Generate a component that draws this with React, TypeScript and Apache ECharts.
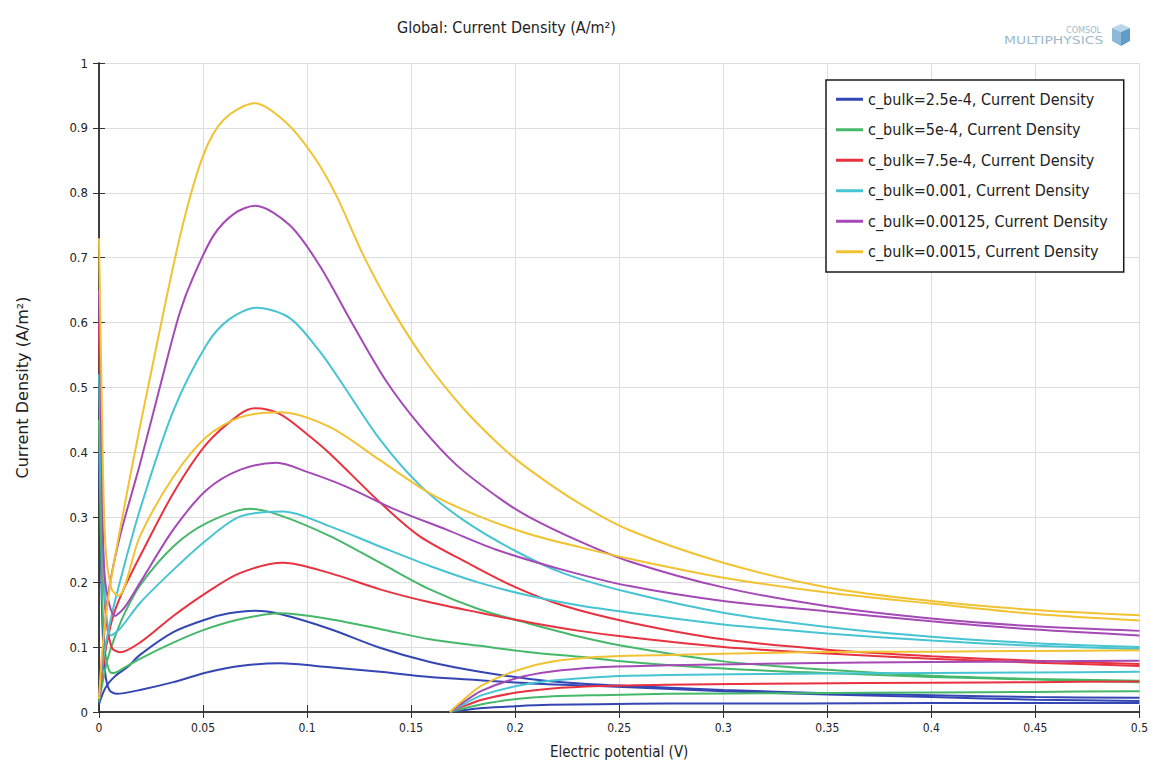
import React, { useEffect, useRef } from "react";
import * as echarts from "echarts";

// ---- data ----
const seriesNames = [
  "c_bulk=2.5e-4, Current Density",
  "c_bulk=5e-4, Current Density",
  "c_bulk=7.5e-4, Current Density",
  "c_bulk=0.001, Current Density",
  "c_bulk=0.00125, Current Density",
  "c_bulk=0.0015, Current Density",
];
const colors = ["#3446b4", "#46b86a", "#e9323f", "#46c4d2", "#a449b6", "#f1c232"];

const xTicks = [0, 0.05, 0.1, 0.15, 0.2, 0.25, 0.3, 0.35, 0.4, 0.45, 0.5];
const yTicks = [0, 0.1, 0.2, 0.3, 0.4, 0.5, 0.6, 0.7, 0.8, 0.9, 1];

// c_bulk = 2.5e-4
const blueHigh = [[0,0.012],[0.002,0.03],[0.004,0.042],[0.007,0.053],[0.01,0.061],[0.014,0.07],[0.0197,0.088],[0.0357,0.123],[0.0517,0.143],[0.0625,0.152],[0.075,0.156],[0.087,0.151],[0.111,0.128],[0.135,0.099],[0.159,0.077],[0.183,0.062],[0.207,0.051],[0.231,0.044],[0.255,0.04],[0.3,0.034],[0.35,0.029],[0.4,0.026],[0.45,0.023],[0.5,0.022]];
const blueLow = [[0,0.4],[0.0015,0.15],[0.003,0.06],[0.005,0.034],[0.0085,0.028],[0.0197,0.034],[0.0357,0.046],[0.0517,0.061],[0.0677,0.071],[0.087,0.075],[0.111,0.069],[0.135,0.062],[0.159,0.054],[0.183,0.049],[0.207,0.044],[0.231,0.041],[0.255,0.038],[0.3,0.032],[0.35,0.027],[0.4,0.023],[0.45,0.019],[0.5,0.017]];
const blueLate = [[0.1686,0],[0.172,0.0015],[0.177,0.0035],[0.184,0.006],[0.2006,0.009],[0.2166,0.011],[0.2406,0.012],[0.273,0.013],[0.337,0.013],[0.4,0.014],[0.45,0.014],[0.5,0.014]];

// c_bulk = 5e-4
const greenHigh = [[0,0.015],[0.002,0.05],[0.004,0.08],[0.007,0.11],[0.012,0.15],[0.0197,0.195],[0.0357,0.255],[0.0517,0.291],[0.0725,0.313],[0.087,0.303],[0.111,0.271],[0.135,0.23],[0.159,0.189],[0.183,0.158],[0.207,0.136],[0.231,0.116],[0.255,0.1],[0.3,0.078],[0.35,0.065],[0.4,0.056],[0.45,0.051],[0.5,0.048]];
const greenLow = [[0,0.45],[0.0015,0.18],[0.003,0.09],[0.005,0.063],[0.007,0.06],[0.012,0.068],[0.0197,0.082],[0.0357,0.107],[0.0517,0.128],[0.0677,0.143],[0.087,0.152],[0.111,0.143],[0.135,0.128],[0.159,0.112],[0.183,0.102],[0.207,0.092],[0.231,0.085],[0.255,0.077],[0.3,0.067],[0.35,0.06],[0.4,0.054],[0.45,0.05],[0.5,0.046]];
const greenLate = [[0.1686,0],[0.172,0.003],[0.177,0.007],[0.184,0.012],[0.2006,0.02],[0.2166,0.024],[0.2406,0.026],[0.273,0.028],[0.337,0.029],[0.4,0.03],[0.45,0.031],[0.5,0.032]];

// c_bulk = 7.5e-4
const redHigh = [[0,0.02],[0.002,0.07],[0.004,0.11],[0.007,0.15],[0.012,0.19],[0.0197,0.24],[0.0357,0.337],[0.0517,0.413],[0.0677,0.459],[0.075,0.468],[0.087,0.459],[0.1,0.428],[0.111,0.398],[0.135,0.323],[0.154,0.271],[0.177,0.23],[0.199,0.194],[0.223,0.164],[0.255,0.138],[0.3,0.112],[0.35,0.096],[0.4,0.086],[0.45,0.079],[0.5,0.074]];
const redLow = [[0,0.6],[0.0015,0.3],[0.003,0.16],[0.006,0.1],[0.01,0.092],[0.0197,0.107],[0.0357,0.148],[0.0517,0.184],[0.0677,0.214],[0.0885,0.23],[0.111,0.214],[0.135,0.189],[0.159,0.169],[0.183,0.153],[0.207,0.138],[0.231,0.125],[0.255,0.115],[0.3,0.1],[0.35,0.09],[0.4,0.082],[0.45,0.076],[0.5,0.071]];
const redLate = [[0.1686,0],[0.172,0.005],[0.177,0.011],[0.184,0.019],[0.2006,0.03],[0.2166,0.036],[0.2406,0.04],[0.273,0.042],[0.337,0.044],[0.4,0.045],[0.45,0.046],[0.5,0.047]];

// c_bulk = 0.001
const cyanHigh = [[0,0.02],[0.002,0.08],[0.0053,0.138],[0.01,0.2],[0.0197,0.312],[0.0357,0.464],[0.0517,0.566],[0.0625,0.605],[0.0757,0.623],[0.0917,0.607],[0.106,0.556],[0.116,0.51],[0.135,0.42],[0.154,0.35],[0.175,0.296],[0.199,0.25],[0.223,0.214],[0.255,0.184],[0.3,0.153],[0.35,0.131],[0.4,0.116],[0.45,0.106],[0.5,0.1]];
const cyanLow = [[0,0.52],[0.0015,0.3],[0.003,0.17],[0.0058,0.118],[0.01,0.128],[0.0197,0.168],[0.0357,0.219],[0.0517,0.265],[0.0677,0.301],[0.0885,0.309],[0.111,0.286],[0.135,0.255],[0.159,0.225],[0.183,0.199],[0.207,0.179],[0.231,0.164],[0.255,0.153],[0.3,0.135],[0.35,0.121],[0.4,0.11],[0.45,0.102],[0.5,0.097]];
const cyanLate = [[0.1686,0],[0.172,0.006],[0.177,0.015],[0.184,0.026],[0.2006,0.04],[0.2166,0.048],[0.2406,0.054],[0.273,0.057],[0.337,0.059],[0.4,0.06],[0.45,0.061],[0.5,0.062]];

// c_bulk = 0.00125
const purpleHigh = [[0,0.02],[0.002,0.1],[0.0043,0.179],[0.01,0.27],[0.0197,0.382],[0.0325,0.541],[0.039,0.617],[0.045,0.668],[0.055,0.734],[0.065,0.768],[0.075,0.78],[0.0917,0.75],[0.106,0.688],[0.122,0.597],[0.138,0.51],[0.154,0.442],[0.172,0.38],[0.193,0.328],[0.207,0.3],[0.231,0.263],[0.255,0.232],[0.3,0.192],[0.35,0.163],[0.4,0.144],[0.45,0.132],[0.5,0.125]];
const purpleLow = [[0,0.65],[0.0015,0.35],[0.003,0.2],[0.0077,0.148],[0.012,0.16],[0.0197,0.199],[0.0357,0.281],[0.0517,0.342],[0.0677,0.373],[0.0853,0.384],[0.1,0.37],[0.119,0.347],[0.143,0.311],[0.167,0.281],[0.191,0.25],[0.223,0.219],[0.255,0.194],[0.3,0.171],[0.35,0.155],[0.4,0.14],[0.45,0.127],[0.5,0.118]];
const purpleLate = [[0.1686,0],[0.172,0.008],[0.177,0.019],[0.184,0.033],[0.2006,0.052],[0.2166,0.062],[0.2406,0.069],[0.273,0.072],[0.337,0.075],[0.4,0.077],[0.45,0.078],[0.5,0.079]];

// c_bulk = 0.0015
const yellowHigh = [[0,0.02],[0.002,0.11],[0.0053,0.194],[0.0149,0.362],[0.0245,0.515],[0.039,0.734],[0.05,0.857],[0.06,0.913],[0.075,0.938],[0.09,0.908],[0.103,0.857],[0.114,0.796],[0.127,0.704],[0.141,0.62],[0.157,0.54],[0.175,0.468],[0.193,0.41],[0.207,0.373],[0.231,0.321],[0.255,0.28],[0.3,0.23],[0.35,0.192],[0.4,0.171],[0.45,0.157],[0.5,0.149]];
const yellowLow = [[0,0.73],[0.0015,0.45],[0.003,0.26],[0.006,0.19],[0.0093,0.179],[0.0197,0.271],[0.0357,0.362],[0.0517,0.424],[0.0677,0.454],[0.087,0.462],[0.111,0.439],[0.135,0.388],[0.159,0.337],[0.183,0.301],[0.207,0.274],[0.231,0.254],[0.255,0.236],[0.3,0.207],[0.35,0.184],[0.4,0.167],[0.45,0.151],[0.5,0.141]];
const yellowLate = [[0.1686,0],[0.172,0.01],[0.177,0.024],[0.184,0.041],[0.2006,0.064],[0.2166,0.077],[0.2406,0.085],[0.273,0.088],[0.337,0.092],[0.4,0.093],[0.45,0.094],[0.5,0.095]];

const curveGroups = [
  [blueHigh, blueLow, blueLate],
  [greenHigh, greenLow, greenLate],
  [redHigh, redLow, redLate],
  [cyanHigh, cyanLow, cyanLate],
  [purpleHigh, purpleLow, purpleLate],
  [yellowHigh, yellowLow, yellowLate],
];

const HFONT = "'DejaVu Sans Condensed', 'DejaVu Sans', sans-serif";
const VFONT = "'DejaVu Sans', sans-serif";

export default function App() {
  const ref = useRef<HTMLDivElement>(null);

  useEffect(() => {
    if (!ref.current) return;
    const chart = echarts.init(ref.current, undefined, { renderer: "svg" });

    const series: any[] = [];
    curveGroups.forEach((group, gi) => {
      group.forEach((data) => {
        series.push({
          type: "line",
          name: seriesNames[gi],
          data,
          showSymbol: false,
          symbol: "none",
          smooth: 0.3,
          lineStyle: { color: colors[gi], width: 2 },
          itemStyle: { color: colors[gi] },
          xAxisIndex: 0,
          yAxisIndex: 0,
          z: 3,
        });
      });
    });

    const tickColor = "#333";
    const option: any = {
      animation: false,
      backgroundColor: "#ffffff",
      title: {
        text: "Global: Current Density (A/m²)",
        left: 392,
        top: 14,
        textStyle: { fontFamily: HFONT, fontSize: 16, fontWeight: "normal", color: "#222" },
      },
      grid: { left: 99, right: 11, top: 63, bottom: 47, containLabel: false },
      legend: {
        orient: "vertical",
        left: 826,
        top: 80,
        data: seriesNames,
        icon: "rect",
        itemWidth: 27,
        itemHeight: 3,
        itemGap: 12,
        padding: [10, 16, 11, 10],
        backgroundColor: "#fff",
        borderColor: "#1a1a1a",
        borderWidth: 1.5,
        textStyle: { fontFamily: HFONT, fontSize: 16, color: "#222", lineHeight: 18.5 },
      },
      xAxis: [
        {
          type: "value",
          min: 0,
          max: 0.5,
          interval: 0.05,
          name: "Electric potential (V)",
          nameLocation: "middle",
          nameGap: 32,
          nameTextStyle: { fontFamily: HFONT, fontSize: 15, color: "#222" },
          axisLine: { show: true, lineStyle: { color: tickColor, width: 1.5 } },
          axisTick: { show: true, inside: true, length: 7, lineStyle: { color: tickColor } },
          axisLabel: {
            fontFamily: HFONT,
            fontSize: 12,
            color: "#222",
            margin: 10,
            formatter: (v: number) => String(+v.toFixed(2)),
          },
          splitLine: { show: true, lineStyle: { color: "#dcdcdc", width: 1 } },
        },
        {
          type: "value",
          position: "top",
          min: 0,
          max: 0.5,
          interval: 0.05,
          axisLine: { show: true, lineStyle: { color: tickColor, width: 1.5 } },
          axisTick: { show: true, inside: true, length: 6, lineStyle: { color: tickColor } },
          axisLabel: { show: false },
          splitLine: { show: false },
        },
      ],
      yAxis: [
        {
          type: "value",
          min: 0,
          max: 1,
          interval: 0.1,
          name: "Current Density (A/m²)",
          nameLocation: "middle",
          nameGap: 69,
          nameRotate: 90,
          nameTextStyle: { fontFamily: VFONT, fontSize: 16, color: "#222" },
          axisLine: { show: true, lineStyle: { color: tickColor, width: 1.5 } },
          axisTick: { show: true, inside: true, length: 6, lineStyle: { color: tickColor } },
          axisLabel: {
            fontFamily: HFONT,
            fontSize: 13,
            color: "#222",
            margin: 11,
            formatter: (v: number) => String(+v.toFixed(1)),
          },
          splitLine: { show: true, lineStyle: { color: "#dcdcdc", width: 1 } },
        },
        {
          type: "value",
          position: "right",
          min: 0,
          max: 1,
          interval: 0.1,
          axisLine: { show: true, lineStyle: { color: tickColor, width: 1.5 } },
          axisTick: { show: true, inside: true, length: 6, lineStyle: { color: tickColor } },
          axisLabel: { show: false },
          splitLine: { show: false },
        },
      ],
      graphic: [
        {
          type: "text",
          x: 1066,
          y: 25,
          style: { text: "COMSOL", fontFamily: HFONT, fontSize: 9, fill: "#9fb9cc" },
        },
        {
          type: "text",
          x: 1004,
          y: 36,
          scaleX: 1.55,
          style: { text: "MULTIPHYSICS", fontFamily: HFONT, fontSize: 10, fill: "#9fb9cc" },
        },
        {
          type: "group",
          left: 1112,
          top: 24,
          children: [
            { type: "polygon", shape: { points: [[0, 4], [9, 0], [18, 4], [9, 8]] }, style: { fill: "#b9d6ea" } },
            { type: "polygon", shape: { points: [[0, 4], [9, 8], [9, 22], [0, 17]] }, style: { fill: "#8db9d8" } },
            { type: "polygon", shape: { points: [[9, 8], [18, 4], [18, 17], [9, 22]] }, style: { fill: "#5f9cc8" } },
          ],
        },
      ],
      series,
    };

    chart.setOption(option);
    return () => chart.dispose();
  }, []);

  return (
    <div
      ref={ref}
      style={{ position: "fixed", left: 0, top: 0, width: 1151, height: 764, background: "#fff" }}
    />
  );
}
